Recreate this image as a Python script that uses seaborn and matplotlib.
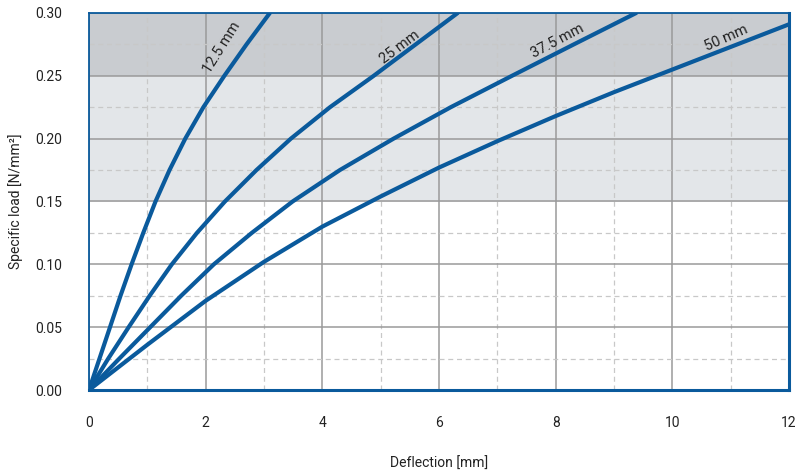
import pandas as pd
import numpy as np
import matplotlib
matplotlib.use("Agg")
import matplotlib.pyplot as plt
import seaborn as sns
from matplotlib.ticker import MultipleLocator, FormatStrFormatter

# Deflection curves, one list pair per sample thickness
curve_names = ['12.5 mm', '25 mm', '37.5 mm', '50 mm']

load_steps = [0, 0.025, 0.05, 0.075, 0.10, 0.125, 0.15, 0.175, 0.20, 0.225, 0.25, 0.275, 0.30]

x_125 = [0, 0.18, 0.36, 0.54, 0.73, 0.93, 1.14, 1.38, 1.65, 1.96, 2.32, 2.70, 3.10]
y_125 = load_steps

x_25 = [0, 0.33, 0.68, 1.04, 1.42, 1.85, 2.33, 2.87, 3.46, 4.13, 4.88, 5.60, 6.32]
y_25 = load_steps

x_375 = [0, 0.52, 1.05, 1.58, 2.14, 2.79, 3.49, 4.30, 5.22, 6.20, 7.25, 8.31, 9.38]
y_375 = load_steps

x_50 = [0, 1, 2, 3, 4, 5, 6, 7, 8, 9, 10, 11, 12]
y_50 = [0, 0.036, 0.071, 0.102, 0.130, 0.154, 0.177, 0.198, 0.218, 0.237, 0.255, 0.273, 0.291]

# label anchor points (data coords) and rotation for the curve names
label_x = [2.27, 5.33, 8.03, 10.93]
label_y = [0.2725, 0.273, 0.278, 0.280]
label_rot = [58, 37, 28, 24]

frames = []
for name, xs, ys in zip(curve_names, [x_125, x_25, x_375, x_50], [y_125, y_25, y_375, y_50]):
    frames.append(pd.DataFrame({'Deflection': xs, 'Load': ys, 'Curve': name}))
df = pd.concat(frames, ignore_index=True)

blue = '#0a5a9c'

sns.set_style('white')
plt.rcParams['font.family'] = ['Roboto', 'DejaVu Sans']

fig = plt.figure(figsize=(7.96, 4.72), dpi=100)
ax = fig.add_axes([89 / 796, 82 / 472, 700 / 796, 377 / 472])

# shaded load ranges
ax.axhspan(0.15, 0.25, color='#e3e6e9', zorder=0.1, lw=0)
ax.axhspan(0.25, 0.30, color='#c9ccd0', zorder=0.1, lw=0)

sns.lineplot(data=df, x='Deflection', y='Load', hue='Curve',
             palette={n: blue for n in curve_names}, estimator=None,
             sort=False, legend=False, linewidth=3, ax=ax, zorder=3)
for ln in ax.get_lines():
    ln.set_solid_joinstyle('round')

for name, lx, ly, rot in zip(curve_names, label_x, label_y, label_rot):
    ax.text(lx, ly, name, rotation=rot, ha='center', va='center',
            fontsize=10.5, color='#222222', zorder=4, rotation_mode='anchor')

ax.set_xlim(0, 12)
ax.set_ylim(0, 0.30)
ax.xaxis.set_major_locator(MultipleLocator(2))
ax.xaxis.set_minor_locator(MultipleLocator(1))
ax.yaxis.set_major_locator(MultipleLocator(0.05))
ax.yaxis.set_minor_locator(MultipleLocator(0.025))
ax.yaxis.set_major_formatter(FormatStrFormatter('%.2f'))

ax.grid(which='major', color='#9a9a9a', linewidth=1.1, linestyle='-')
ax.grid(which='minor', color='#c8c8c8', linewidth=0.9, linestyle=(0, (4, 3)))
for gl in ax.get_xgridlines() + ax.get_ygridlines():
    gl.set_zorder(1)
for gl in ax.xaxis.get_minorticklines() + ax.yaxis.get_minorticklines():
    gl.set_zorder(1)

ax.tick_params(which='both', length=0)
ax.tick_params(axis='x', pad=19, labelsize=10, colors='#222222')
ax.tick_params(axis='y', pad=19, labelsize=10, colors='#222222')

for side, sp in ax.spines.items():
    sp.set_color(blue)
    sp.set_visible(True)
    sp.set_zorder(5)
ax.spines['bottom'].set_linewidth(2.2)
ax.spines['right'].set_linewidth(2.2)
ax.spines['left'].set_linewidth(1.3)
ax.spines['top'].set_linewidth(1.3)

ax.set_xlabel('Deflection [mm]', fontsize=10, color='#222222', labelpad=19)
ax.set_ylabel('Specific load [N/mm²]', fontsize=10, color='#222222', labelpad=9)

fig.savefig('out.png', dpi=100)
